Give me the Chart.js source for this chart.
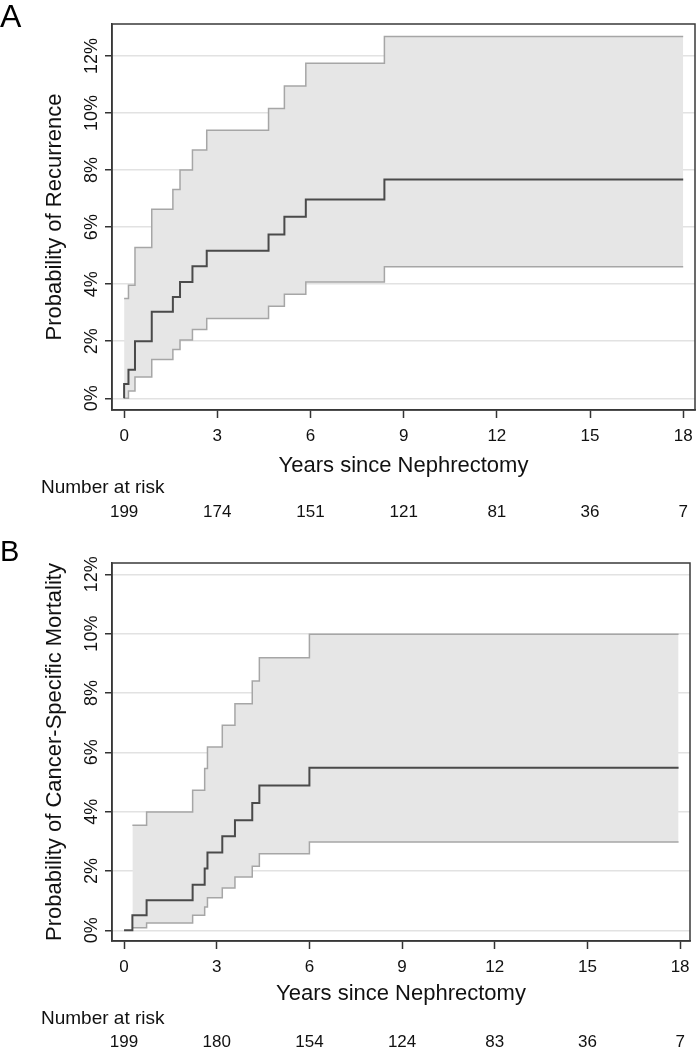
<!DOCTYPE html>
<html>
<head>
<meta charset="UTF-8">
<title>Recurrence and Cancer-Specific Mortality</title>
<script src="https://cdn.jsdelivr.net/npm/chart.js@4"></script>
<style>
  body { margin: 0; background: #fff; width: 697px; height: 1050px; overflow: hidden; position: relative; }
  .panel { position: absolute; left: 0; width: 697px; height: 525px; }
  .letter { position: absolute; left: 0; font-family: "Liberation Sans", Arial, sans-serif; line-height: 1; color: #000; }
</style>
</head>
<body>
<div class="panel" style="top:0px"><canvas id="chartA" width="697" height="525"></canvas></div>
<div class="panel" style="top:525px"><canvas id="chartB" width="697" height="525"></canvas></div>
<div class="letter" style="top:0px;font-size:32px">A</div>
<div class="letter" style="top:537px;font-size:29px">B</div>
<script>
var FONT = '"Liberation Sans", Arial, sans-serif';

var yearTicks = [0, 3, 6, 9, 12, 15, 18];
var pctTicks = [0, 2, 4, 6, 8, 10, 12];

// panel A - recurrence (percent)
var timesA    = [0, 0,   0.14, 0.35, 0.89, 1.57, 1.80, 2.20, 2.66, 4.65,  5.16,  5.85,  8.38,  18.0];
var estimateA = [0, 0.5, 1.0,  2.0,  3.03, 3.55, 4.08, 4.63, 5.17, 5.74,  6.36,  6.97,  7.67,  7.67];
var upperA    = [3.5, 3.5, 3.96, 5.29, 6.63, 7.32, 8.0, 8.70, 9.40, 10.16, 10.95, 11.74, 12.68, 12.68];
var lowerA    = [0, 0,   0.26, 0.75, 1.36, 1.71, 2.04, 2.41, 2.80, 3.23,  3.65,  4.08,  4.61,  4.61];
var atRiskA   = [199, 174, 151, 121, 81, 36, 7];

// panel B - cancer-specific mortality (percent)
var timesB    = [0, 0.27, 0.73, 2.22, 2.61, 2.70, 3.18, 3.59, 4.15, 4.38, 6.0,  17.95];
var estimateB = [0, 0.51, 1.01, 1.54, 2.08, 2.62, 3.17, 3.71, 4.29, 4.88, 5.48, 5.48];
var upperB    = [null, 3.54, 3.99, 4.72, 5.45, 6.18, 6.91, 7.64, 8.40, 9.19, 9.98, 9.98];
var lowerB    = [null, 0.09, 0.25, 0.51, 0.79, 1.10, 1.43, 1.80, 2.16, 2.58, 2.98, 2.98];
var atRiskB   = [199, 180, 154, 124, 83, 36, 7];

function toPoints(xs, ys) {
    var pts = [];
    for (var i = 0; i < xs.length; i++) {
        if (ys[i] !== null) pts.push({x: xs[i], y: ys[i]});
    }
    return pts;
}

// frame, rotated y labels and the number-at-risk row
var panelExtras = {
    id: 'panelExtras',
    afterDraw: function(chart) {
        var o = chart.options.plugins.panelExtras;
        var ctx = chart.ctx, a = chart.chartArea;
        var xs = chart.scales.x, ys = chart.scales.y;
        ctx.save();
        ctx.strokeStyle = '#3a3a3a';
        ctx.lineWidth = 1.5;
        ctx.strokeRect(a.left, a.top, a.right - a.left, a.bottom - a.top);

        ctx.fillStyle = '#111';
        ctx.font = '18px ' + FONT;
        ctx.textAlign = 'center';
        ctx.textBaseline = 'middle';
        ys.ticks.forEach(function(t) {
            ctx.save();
            ctx.translate(92, ys.getPixelForValue(t.value));
            ctx.rotate(-Math.PI / 2);
            ctx.fillText(t.value + '%', 0, 0);
            ctx.restore();
        });

        ctx.font = '19px ' + FONT;
        ctx.textAlign = 'left';
        ctx.fillText('Number at risk', 41, o.riskTitleY);
        ctx.font = '17px ' + FONT;
        ctx.textAlign = 'center';
        o.atRisk.forEach(function(n, i) {
            ctx.fillText(String(n), xs.getPixelForValue(yearTicks[i]), o.riskY);
        });
        ctx.restore();
    }
};

function makeChart(id, p) {
    return new Chart(document.getElementById(id), {
        type: 'line',
        data: {
            datasets: [{
                data: toPoints(p.times, p.estimate),
                borderColor: '#4a4a4a', borderWidth: 2, stepped: true,
                pointRadius: 0, fill: false
            }, {
                data: toPoints(p.times, p.upper),
                borderColor: '#a6a6a6', borderWidth: 1.5, stepped: true,
                pointRadius: 0, fill: '+1', backgroundColor: '#e6e6e6'
            }, {
                data: toPoints(p.times, p.lower),
                borderColor: '#a6a6a6', borderWidth: 1.5, stepped: true,
                pointRadius: 0, fill: false
            }]
        },
        options: {
            responsive: false,
            animation: false,
            layout: { padding: { top: p.padTop, right: p.padRight, bottom: p.padBottom, left: 0 } },
            plugins: {
                legend: { display: false },
                tooltip: { enabled: false },
                filler: { drawTime: 'beforeDatasetsDraw' },
                panelExtras: { atRisk: p.atRisk, riskTitleY: p.riskTitleY, riskY: p.riskY }
            },
            scales: {
                x: {
                    type: 'linear', min: p.xMin, max: p.xMax,
                    afterBuildTicks: function(s) { s.ticks = yearTicks.map(function(v) { return {value: v}; }); },
                    afterFit: function(s) {
                        s.height = p.xAxisHeight;
                        s.paddingLeft = 0;
                        s.paddingRight = 0;
                    },
                    grid: { drawOnChartArea: false, tickLength: 8, tickColor: '#333', tickWidth: 1.5 },
                    border: { color: '#333', width: 1.5 },
                    ticks: { color: '#111', font: { family: FONT, size: 17 }, padding: 8, maxRotation: 0, autoSkip: false },
                    title: { display: true, text: 'Years since Nephrectomy', color: '#111',
                             font: { family: FONT, size: 22 }, padding: { top: 0, bottom: 0 } }
                },
                y: {
                    min: p.yMin, max: p.yMax,
                    afterBuildTicks: function(s) { s.ticks = pctTicks.map(function(v) { return {value: v}; }); },
                    afterFit: function(s) { s.width = 112; },
                    grid: { color: '#e2e2e2', lineWidth: 1.5, tickLength: 7, tickColor: '#333', tickWidth: 1.5 },
                    border: { color: '#333', width: 1.5 },
                    ticks: { display: false },
                    title: { display: true, text: p.yTitle, color: '#111',
                             font: { family: FONT, size: 22 }, padding: { top: 42, bottom: 0 } }
                }
            }
        },
        plugins: [panelExtras]
    });
}

makeChart('chartA', {
    times: timesA, estimate: estimateA, upper: upperA, lower: lowerA, atRisk: atRiskA,
    yTitle: 'Probability of Recurrence',
    xMin: -0.39, xMax: 18.38, yMin: -0.41, yMax: 13.12,
    padTop: 24, padRight: 2, padBottom: 46, xAxisHeight: 69,
    riskTitleY: 488, riskY: 512
});

makeChart('chartB', {
    times: timesB, estimate: estimateB, upper: upperB, lower: lowerB, atRisk: atRiskB,
    yTitle: 'Probability of Cancer-Specific Mortality',
    xMin: -0.39, xMax: 18.32, yMin: -0.36, yMax: 12.38,
    padTop: 38, padRight: 7, padBottom: 43, xAxisHeight: 66,
    riskTitleY: 494, riskY: 517
});
</script>
</body>
</html>
